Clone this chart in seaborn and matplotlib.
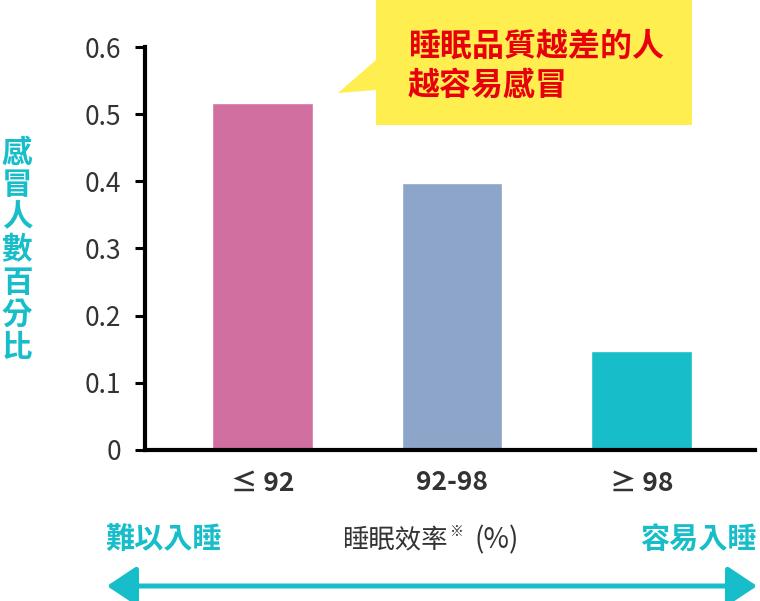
import matplotlib
matplotlib.use("Agg")
import matplotlib.pyplot as plt
import seaborn as sns
import pandas as pd
from matplotlib.patches import Polygon, FancyArrowPatch

# 資料
categories = ["≤ 92", "92-98", "≥ 98"]
cold_ratio = [0.517, 0.397, 0.147]
bar_colors = ["#D16FA0", "#8CA5C8", "#17BEC9"]
y_ticks = [0, 0.1, 0.2, 0.3, 0.4, 0.5, 0.6]
y_tick_labels = ["0", "0.1", "0.2", "0.3", "0.4", "0.5", "0.6"]
bubble_lines = ["睡眠品質越差的人", "越容易感冒"]
y_label = "感冒人數百分比"

sns.set_style("white")
plt.rcParams['font.family'] = ['Noto Sans CJK TC', 'DejaVu Sans']

teal = "#17BEC9"
dark = "#333333"

df = pd.DataFrame({"cat": categories, "val": cold_ratio})

W, H = 760, 601
def fc(x, y):
    return (x / W, 1 - y / H)

fig = plt.figure(figsize=(7.6, 6.01), dpi=100)
ax = fig.add_axes([145 / W, 151 / H, 610 / W, 403 / H])

sns.barplot(data=df, x="cat", y="val", hue="cat", palette=bar_colors,
            width=0.53, legend=False, ax=ax, saturation=1)

ax.set_xlim(-0.62, 2.6)
ax.set_ylim(0, 0.6)
ax.set_yticks(y_ticks)
ax.set_yticklabels(y_tick_labels, fontsize=19, color=dark)
ax.tick_params(axis="y", direction="out", length=7, width=2.2, color="black", pad=10, left=True)
ax.tick_params(axis="x", length=0, pad=14)
for lab in ax.get_xticklabels():
    lab.set_fontsize(19)
    lab.set_fontweight("bold")
    lab.set_color(dark)
ax.set_xlabel("")
ax.set_ylabel("")
for s in ["top", "right"]:
    ax.spines[s].set_visible(False)
for s in ["left", "bottom"]:
    ax.spines[s].set_linewidth(3)
    ax.spines[s].set_color("black")

# 直式 y 軸標題
fig.text(17 / W, 1 - 250 / H, "\n".join(y_label), ha="center", va="center",
         fontsize=22, fontweight="bold", color=teal, linespacing=1.02)

# 對話框
bubble = Polygon([fc(376, 0), fc(692, 0), fc(692, 125), fc(376, 125),
                  fc(376, 90), fc(338, 93), fc(376, 60)],
                 closed=True, transform=fig.transFigure, facecolor="#FFEE50",
                 edgecolor="none")
fig.patches.append(bubble)
fig.text(408 / W, 1 - 47 / H, bubble_lines[0], ha="left", va="center",
         fontsize=23, fontweight="bold", color="#E8000B")
fig.text(408 / W, 1 - 86 / H, bubble_lines[1], ha="left", va="center",
         fontsize=23, fontweight="bold", color="#E8000B")

# 底部說明
fig.text(105 / W, 1 - 540 / H, "難以入睡", ha="left", va="center",
         fontsize=21, fontweight="bold", color=teal)
fig.text(757 / W, 1 - 540 / H, "容易入睡", ha="right", va="center",
         fontsize=21, fontweight="bold", color=teal)
fig.text(342 / W, 1 - 540 / H, "睡眠效率", ha="left", va="center",
         fontsize=19, color=dark)
fig.text(450 / W, 1 - 532 / H, "※", ha="left", va="center",
         fontsize=10, color=dark)
fig.text(474 / W, 1 - 540 / H, "(%)", ha="left", va="center",
         fontsize=20, color=dark)

fig.patches.append(FancyArrowPatch(
    fc(107, 586), fc(757, 586), transform=fig.transFigure,
    arrowstyle="<|-|>,head_length=9,head_width=6", color=teal, lw=3.6,
    mutation_scale=2, shrinkA=0, shrinkB=0))

fig.savefig("out.png", dpi=100)
